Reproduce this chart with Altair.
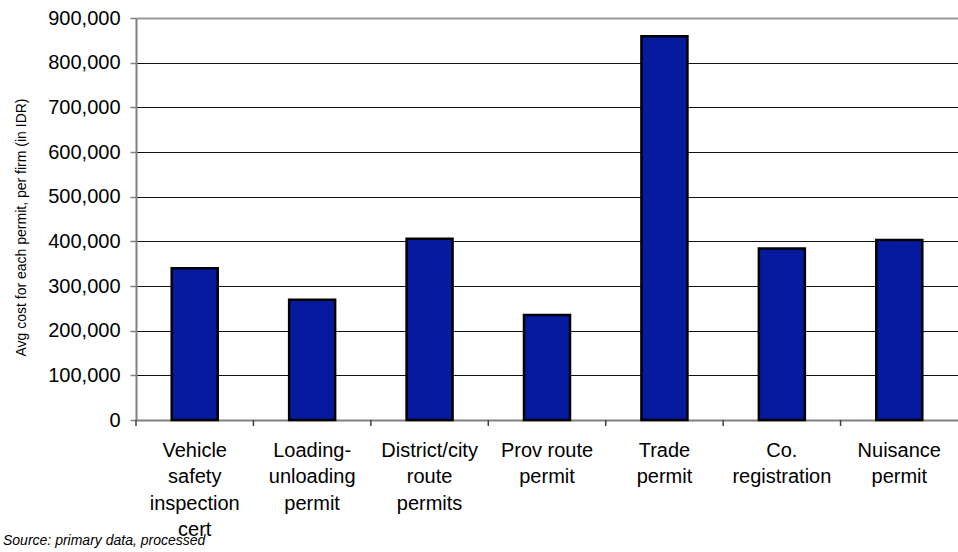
import altair as alt
import pandas as pd

# Permit categories (multi-line labels split on \n) and average cost per firm, IDR
permits = [
    "Vehicle\nsafety\ninspection\ncert",
    "Loading-\nunloading\npermit",
    "District/city\nroute\npermits",
    "Prov route\npermit",
    "Trade\npermit",
    "Co.\nregistration",
    "Nuisance\npermit",
]
avg_cost = [340000, 269000, 406000, 235000, 859000, 384000, 403000]
y_ticks = [0, 100000, 200000, 300000, 400000, 500000, 600000, 700000, 800000, 900000]
source_note = ["Source: primary data, processed"]

FONT = "Liberation Sans"
W, H = 822, 402

df = pd.DataFrame({"permit": permits, "cost": avg_cost})

x_enc = alt.X(
    "permit:N",
    sort=permits,
    scale=alt.Scale(paddingInner=0, paddingOuter=0),
    axis=alt.Axis(
        title=None,
        labelAngle=0,
        labelExpr="split(datum.label, '\\n')",
        labelFont=FONT,
        labelFontSize=20,
        labelLineHeight=26.5,
        labelColor="#000",
        labelBaseline="top",
        labelPadding=20,
        ticks=False,
        domainColor="#808080",
        domainWidth=2,
        grid=False,
    ),
)

bars = alt.Chart(df).mark_bar(
    size=46, color="#061a9f", stroke="#000", strokeWidth=2.5
).encode(
    x=x_enc,
    y=alt.Y(
        "cost:Q",
        scale=alt.Scale(domain=[0, 900000], nice=False),
        axis=alt.Axis(
            values=y_ticks,
            format=",.0f",
            title="Avg cost for each permit, per firm (in IDR)",
            titleFont=FONT,
            titleFontSize=14,
            titleFontWeight="normal",
            titleColor="#000",
            titleAngle=270,
            titleX=-111,
            titleY=H / 2 + 8,
            titleAlign="center",
            titleBaseline="alphabetic",
            labelFont=FONT,
            labelFontSize=20,
            labelColor="#000",
            labelPadding=10,
            tickSize=6,
            tickColor="#808080",
            tickWidth=1.5,
            domainColor="#808080",
            domainWidth=2,
            grid=True,
            gridColor=alt.condition("datum.value == 900000", alt.value("#999999"), alt.value("#111111")),
            gridWidth=alt.condition("datum.value == 900000", alt.value(2), alt.value(1)),
        ),
    ),
)

# Category tick marks at the band boundaries
ticks = alt.Chart(df).mark_rule(color="#404040", strokeWidth=1.5).encode(
    x=alt.X("permit:N", sort=permits, bandPosition=0),
    y=alt.value(H),
    y2=alt.value(H + 6),
)

note = alt.Chart(pd.DataFrame({"t": source_note})).mark_text(
    font=FONT, fontSize=14, fontStyle="italic", align="left", baseline="alphabetic", color="#000"
).encode(
    text="t:N",
    x=alt.value(-133),
    y=alt.value(H + 125),
)

chart = alt.layer(bars, ticks, note).properties(
    width=W,
    height=H,
    background="white",
    padding={"left": 136, "top": 18, "right": 0, "bottom": 132},
    autosize=alt.AutoSizeParams(type="none"),
).configure_view(stroke=None)

chart.save("out.html", embed_options={"renderer": "svg", "actions": False})
